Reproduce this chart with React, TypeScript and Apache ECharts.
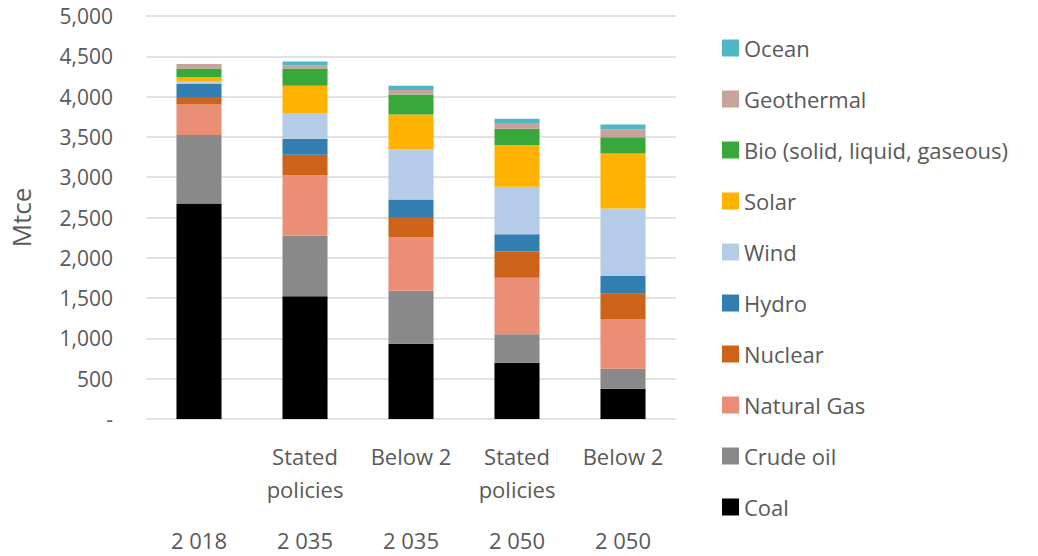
import React, { useEffect, useRef } from "react";
import * as echarts from "echarts";

const scenarios = ["", "Stated\npolicies", "Below 2", "Stated\npolicies", "Below 2"];
const years = ["2 018", "2 035", "2 035", "2 050", "2 050"];

const coal = [2673, 1522, 934, 698, 375];
const crudeOil = [852, 754, 658, 355, 249];
const naturalGas = [378, 749, 663, 701, 612];
const nuclear = [91, 252, 252, 323, 319];
const hydro = [161, 199, 216, 215, 219];
const wind = [34, 319, 625, 590, 837];
const solar = [53, 339, 431, 519, 683];
const bio = [108, 216, 248, 199, 203];
const geothermal = [54, 37, 54, 71, 99];
const ocean = [0, 50, 53, 53, 59];

const seriesDefs = [
  { name: "Coal", data: coal, color: "#000000" },
  { name: "Crude oil", data: crudeOil, color: "#898989" },
  { name: "Natural Gas", data: naturalGas, color: "#ea8e75" },
  { name: "Nuclear", data: nuclear, color: "#cd6318" },
  { name: "Hydro", data: hydro, color: "#327eb0" },
  { name: "Wind", data: wind, color: "#b5cce9" },
  { name: "Solar", data: solar, color: "#ffb300" },
  { name: "Bio (solid, liquid, gaseous)", data: bio, color: "#37a839" },
  { name: "Geothermal", data: geothermal, color: "#c8a39b" },
  { name: "Ocean", data: ocean, color: "#4fb6c3" },
];

const FONT = "'Open Sans', sans-serif";
const TXT = "#595959";

export default function App() {
  const ref = useRef<HTMLDivElement>(null);
  useEffect(() => {
    if (!ref.current) return;
    const chart = echarts.init(ref.current, null, { renderer: "svg" });
    chart.setOption({
      animation: false,
      textStyle: { fontFamily: FONT },
      grid: { left: 146, right: 362, top: 16, bottom: 137 },
      legend: {
        orient: "vertical",
        left: 722,
        top: 37,
        padding: 0,
        itemWidth: 17,
        itemHeight: 17,
        itemGap: 29,
        icon: "rect",
        data: seriesDefs.map((s) => s.name).reverse(),
        textStyle: { color: TXT, fontSize: 22, fontFamily: FONT },
      },
      xAxis: [
        {
          type: "category",
          data: scenarios,
          axisLine: { show: false },
          axisTick: { show: false },
          axisLabel: {
            color: TXT,
            fontSize: 22,
            lineHeight: 33,
            margin: 20,
            fontFamily: FONT,
            interval: 0,
          },
        },
        {
          type: "category",
          data: years,
          position: "bottom",
          axisLine: { show: false },
          axisTick: { show: false },
          axisLabel: {
            color: TXT,
            fontSize: 22,
            lineHeight: 33,
            margin: 104,
            fontFamily: FONT,
            interval: 0,
          },
        },
      ],
      yAxis: {
        type: "value",
        min: 0,
        max: 5000,
        interval: 500,
        name: "Mtce",
        nameLocation: "middle",
        nameRotate: 90,
        nameGap: 112,
        nameTextStyle: { color: TXT, fontSize: 26, fontFamily: FONT },
        axisLine: { show: false },
        axisTick: { show: false },
        axisLabel: {
          color: TXT,
          fontSize: 21,
          margin: 33,
          fontFamily: FONT,
          formatter: (v: number) => (v === 0 ? "-" : v.toLocaleString("en-US")),
        },
        splitLine: { lineStyle: { color: "#d9d9d9", width: 1.5 } },
      },
      series: seriesDefs.map((s) => ({
        name: s.name,
        type: "bar",
        stack: "total",
        xAxisIndex: 0,
        barWidth: "42.5%",
        data: s.data,
        itemStyle: { color: s.color },
      })),
    });
    return () => chart.dispose();
  }, []);
  return (
    <div
      ref={ref}
      style={{ position: "fixed", left: 0, top: 0, width: 1038, height: 556, background: "#fff" }}
    />
  );
}
